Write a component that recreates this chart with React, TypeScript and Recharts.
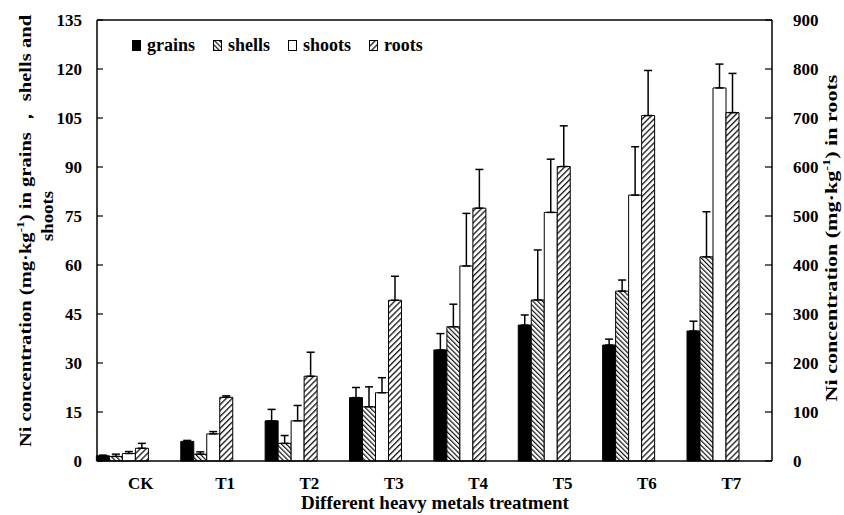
import React from 'react';
import { BarChart, Bar, XAxis, YAxis, ErrorBar, ReferenceLine, Legend } from 'recharts';

const categories = ['CK', 'T1', 'T2', 'T3', 'T4', 'T5', 'T6', 'T7'];
const grains = [1.6, 6.0, 12.3, 19.4, 34.0, 41.6, 35.5, 39.8];
const grainsErr = [0.2, 0.3, 3.5, 3.1, 5.0, 3.1, 1.8, 3.0];
const shells = [1.4, 2.1, 5.4, 16.6, 41.1, 49.3, 52.0, 62.5];
const shellsErr = [0.7, 0.7, 2.4, 6.1, 6.9, 15.3, 3.4, 13.8];
const shoots = [2.3, 8.3, 12.3, 20.9, 59.7, 76.1, 81.4, 114.2];
const shootsErr = [0.6, 0.7, 4.7, 4.6, 16.1, 16.3, 14.8, 7.3];
const roots = [26, 130, 173, 328, 516, 601, 705, 711];
const rootsErr = [10, 3, 49, 49, 79, 83, 92, 80];
const leftTicks = [0, 15, 30, 45, 60, 75, 90, 105, 120, 135];
const rightTicks = [0, 100, 200, 300, 400, 500, 600, 700, 800, 900];

const data = categories.map((name, i) => ({
  name,
  grains: grains[i],
  grainsErr: [0, grainsErr[i]],
  shells: shells[i],
  shellsErr: [0, shellsErr[i]],
  shoots: shoots[i],
  shootsErr: [0, shootsErr[i]],
  roots: roots[i],
  rootsErr: [0, rootsErr[i]],
}));

const FONT = '"Liberation Serif", "Times New Roman", serif';

const legendItems = [
  { label: 'grains', fill: '#000' },
  { label: 'shells', fill: 'url(#hatchShells)' },
  { label: 'shoots', fill: '#fff' },
  { label: 'roots', fill: 'url(#hatchRoots)' },
];

const renderLegend = () => (
  <div style={{ display: 'flex', alignItems: 'center', fontFamily: FONT, fontWeight: 'bold', fontSize: 18, color: '#000', lineHeight: '20px' }}>
    {legendItems.map((it) => (
      <div key={it.label} style={{ display: 'flex', alignItems: 'center', marginRight: 18 }}>
        <svg width={9} height={11} style={{ marginRight: 6 }}>
          <rect x={0.5} y={0.5} width={8} height={10} fill={it.fill} stroke="#000" strokeWidth={1} />
        </svg>
        <span>{it.label}</span>
      </div>
    ))}
  </div>
);

const LeftTitle = () => (
  <g fontFamily={FONT} fontWeight="bold" fontSize={17} fill="#000">
    <text transform="translate(31,231) rotate(-90) scale(1.21,1)" textAnchor="middle">
      Ni concentration (mg·kg<tspan fontSize={11} dy={-7}>-1</tspan><tspan dy={7}>) in grains ，  shells and</tspan>
    </text>
    <text transform="translate(53,216) rotate(-90) scale(1.1,1)" textAnchor="middle">shoots</text>
  </g>
);

const RightTitle = () => (
  <g fontFamily={FONT} fontWeight="bold" fontSize={17} fill="#000">
    <text transform="translate(837,238) rotate(-90) scale(1.3,1)" textAnchor="middle">
      Ni concentration (mg·kg<tspan fontSize={11} dy={-7}>-1</tspan><tspan dy={7}>) in roots</tspan>
    </text>
  </g>
);

const XTitle = () => (
  <text x={435} y={509} textAnchor="middle" fontFamily={FONT} fontWeight="bold" fontSize={19} fill="#000">
    Different heavy metals treatment
  </text>
);

export default function App() {
  const tickStyle = { fontFamily: FONT, fontWeight: 'bold', fontSize: 17, fill: '#000' };
  return (
    <div style={{ position: 'absolute', left: 0, top: 0, background: '#fff' }}>
      <BarChart
        width={844}
        height={515}
        data={data}
        margin={{ top: 20, right: 12, left: 37, bottom: 14 }}
        barCategoryGap="20%"
        barGap={0}
      >
        <defs>
          <pattern id="hatchShells" patternUnits="userSpaceOnUse" width={3.4} height={10} patternTransform="rotate(-45)">
            <rect width={3.4} height={10} fill="#fff" />
            <line x1={0.6} y1={0} x2={0.6} y2={10} stroke="#000" strokeWidth={1.1} />
          </pattern>
          <pattern id="hatchRoots" patternUnits="userSpaceOnUse" width={4.2} height={10} patternTransform="rotate(45)">
            <rect width={4.2} height={10} fill="#fff" />
            <line x1={0.7} y1={0} x2={0.7} y2={10} stroke="#000" strokeWidth={1.2} />
          </pattern>
        </defs>
        <XAxis
          dataKey="name"
          padding={{ left: -17.5, right: 17.5 }}
          tickLine={false}
          axisLine={{ stroke: '#000', strokeWidth: 1.5 }}
          tick={{ ...tickStyle, dx: 19 }}
          tickMargin={10}
          height={40}
          label={<XTitle />}
        />
        <YAxis
          yAxisId="left"
          orientation="left"
          domain={[0, 135]}
          ticks={leftTicks}
          interval={0}
          width={60}
          axisLine={{ stroke: '#000', strokeWidth: 1.5 }}
          tickLine={{ stroke: '#000', strokeWidth: 1.2 }}
          tickSize={-6}
          tickMargin={21}
          tick={tickStyle}
          label={<LeftTitle />}
        />
        <YAxis
          yAxisId="right"
          orientation="right"
          domain={[0, 900]}
          ticks={rightTicks}
          interval={0}
          width={60}
          axisLine={{ stroke: '#000', strokeWidth: 1.5 }}
          tickLine={{ stroke: '#000', strokeWidth: 1.2 }}
          tickSize={-7}
          tickMargin={28}
          tick={tickStyle}
          label={<RightTitle />}
        />
        <ReferenceLine yAxisId="left" y={135} stroke="#000" strokeWidth={1.5} />
        <Legend
          layout="horizontal"
          verticalAlign="middle"
          align="center"
          content={renderLegend}
          wrapperStyle={{ top: 35, left: 132, width: 420 }}
        />
        <Bar yAxisId="left" dataKey="grains" fill="#000" stroke="#000" strokeWidth={1} isAnimationActive={false}>
          <ErrorBar dataKey="grainsErr" width={4} stroke="#000" strokeWidth={1.5} direction="y" />
        </Bar>
        <Bar yAxisId="left" dataKey="shells" fill="url(#hatchShells)" stroke="#000" strokeWidth={1} isAnimationActive={false}>
          <ErrorBar dataKey="shellsErr" width={4} stroke="#000" strokeWidth={1.5} direction="y" />
        </Bar>
        <Bar yAxisId="left" dataKey="shoots" fill="#fff" stroke="#000" strokeWidth={1} isAnimationActive={false}>
          <ErrorBar dataKey="shootsErr" width={4} stroke="#000" strokeWidth={1.5} direction="y" />
        </Bar>
        <Bar yAxisId="right" dataKey="roots" fill="url(#hatchRoots)" stroke="#000" strokeWidth={1} isAnimationActive={false}>
          <ErrorBar dataKey="rootsErr" width={4} stroke="#000" strokeWidth={1.5} direction="y" />
        </Bar>
      </BarChart>
    </div>
  );
}
